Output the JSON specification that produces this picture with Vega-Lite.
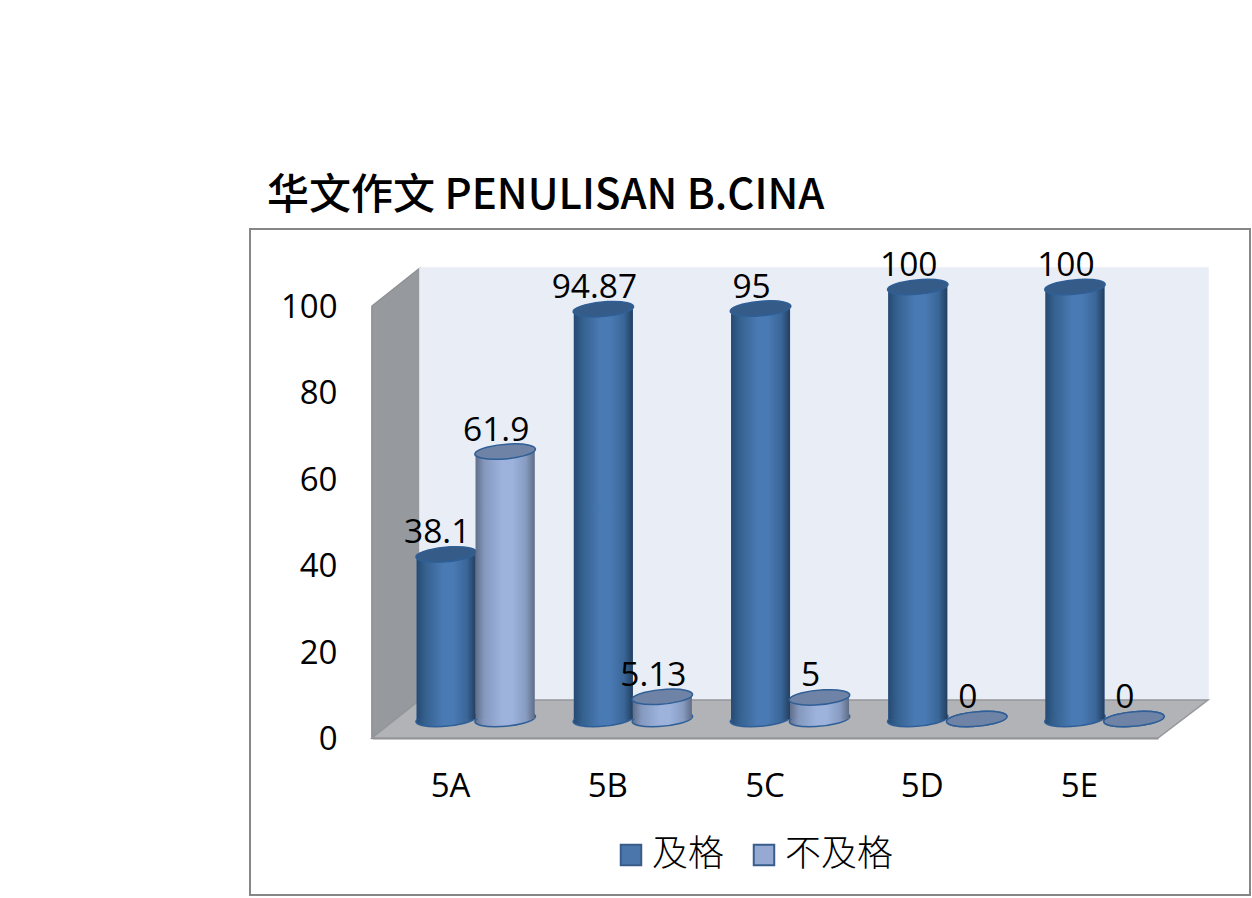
{
"$schema":"https://vega.github.io/schema/vega-lite/v6.json",
"width":1000,"height":666,
"autosize":{"type":"none"},
"padding":{"left":250,"top":229,"right":2,"bottom":3},
"background":"white",
"view":{"stroke":"#868686","strokeWidth":2,"fill":"white"},
"title":{"text":"华文作文 PENULISAN B.CINA","anchor":"start","frame":"group","dx":17,"offset":11,"font":"Noto Sans CJK SC","fontSize":42,"fontWeight":500,"color":"#000000"},
"datasets":{
"scores":[
{"class":"5A","series":"及格","value":38.1},{"class":"5A","series":"不及格","value":61.9},
{"class":"5B","series":"及格","value":94.87},{"class":"5B","series":"不及格","value":5.13},
{"class":"5C","series":"及格","value":95},{"class":"5C","series":"不及格","value":5},
{"class":"5D","series":"及格","value":100},{"class":"5D","series":"不及格","value":0},
{"class":"5E","series":"及格","value":100},{"class":"5E","series":"不及格","value":0}],
"walls":[
{"surface":"left","u":0,"low":0,"high":100},{"surface":"left","u":0.305,"low":8.8,"high":108.8},
{"surface":"back","u":0.305,"low":8.8,"high":108.8},{"surface":"back","u":5.318,"low":8.8,"high":108.8},
{"surface":"floor","u":0,"low":0,"high":0},{"surface":"floor","u":0.305,"low":0,"high":8.8},{"surface":"floor","u":5,"low":0,"high":8.8},{"surface":"floor","u":5.318,"low":8.8,"high":8.8}]
},
"data":{"name":"scores"},
"resolve":{"scale":{"x":"independent","y":"independent","xOffset":"independent","color":"independent","stroke":"independent"}},
"layer":[
{"data":{"name":"walls"},"mark":{"type":"area","clip":false,"strokeWidth":1.5},
 "encoding":{
  "x":{"field":"u","type":"quantitative","axis":null,"scale":{"domain":[0,5],"range":[122,908],"nice":false,"zero":false}},
  "y":{"field":"low","type":"quantitative","axis":null,"scale":{"domain":[0,100],"range":[509,77],"nice":false}},
  "y2":{"field":"high"},
  "color":{"field":"surface","type":"nominal","legend":null,"scale":{"domain":["left","back","floor"],"range":["#96999e","#e9edf6","#b1b3b7"]}},
  "stroke":{"field":"surface","type":"nominal","legend":null,"scale":{"domain":["left","back","floor"],"range":["#8e9094","#e9edf6","#959799"]}}
 }},
{"mark":{"type":"point","opacity":0},
 "encoding":{
  "x":{"field":"class","type":"nominal","title":null,"sort":["5A","5B","5C","5D","5E"],"scale":{"type":"band","range":[122,908],"paddingInner":0,"paddingOuter":0},
   "axis":{"offset":-157,"labelAngle":0,"tickSize":0,"labelPadding":32,"labelFont":"Open Sans","labelFontSize":33,"labelColor":"#000000","domainColor":"#8e8e8e","domainWidth":2,"grid":false}},
  "y":{"field":"value","type":"quantitative","title":null,"scale":{"domain":[0,100],"range":[509,77],"nice":false},
   "axis":{"offset":-122,"values":[0,20,40,60,80,100],"tickSize":0,"labelPadding":35,"labelOffset":1.5,"labelFont":"Open Sans","labelFontSize":33,"labelColor":"#000000","domainColor":"#8e8e8e","domainWidth":2,"grid":false}}
 }},
{"mark":{"type":"bar"},
 "encoding":{
  "x":{"field":"class","type":"nominal","axis":null,"sort":["5A","5B","5C","5D","5E"],"scale":{"type":"band","range":[147,933],"paddingInner":0.25,"paddingOuter":0.125}},
  "xOffset":{"field":"series","type":"nominal","sort":["及格","不及格"],"scale":{"type":"band","domain":["及格","不及格"],"range":[0,118]}},
  "y":{"field":"value","type":"quantitative","axis":null,"stack":null,"scale":{"domain":[0,100],"range":[490,58],"nice":false}},
  "color":{"field":"series","type":"nominal","sort":["及格","不及格"],"scale":{"domain":["及格","不及格"],"range":["#4a76ab","#95a9d2"]},
   "legend":{"orient":"none","legendX":363,"legendY":608,"direction":"horizontal","title":null,"symbolType":"square","symbolSize":420,"symbolStrokeColor":"#385d8a","symbolStrokeWidth":2,"labelFont":"Noto Sans CJK SC","labelFontSize":36,"labelFontWeight":300,"labelColor":"#000000","labelOffset":3,"columnPadding":21,"symbolOpacity":1,"labelLimit":200}}
 }},
{"transform":[{"filter":"datum.series==='及格'"}],"mark":{"type":"point","filled":true,"opacity":1,"size":3600,"shape":"M -1 0.05 A 1 0.24 -5 1 1 1 -0.05 A 1 0.24 -5 1 1 -1 0.05 Z","stroke":"#2f5f96","strokeWidth":1.5,
  "fill":{"x1":0,"x2":1,"y1":0,"y2":0,"gradient":"linear","stops":[{"offset":0,"color":"#264a72"},{"offset":0.15,"color":"#35618f"},{"offset":0.45,"color":"#4a7ab4"},{"offset":0.62,"color":"#4a7ab4"},{"offset":0.85,"color":"#3a6698"},{"offset":1,"color":"#223f60"}]}},
 "encoding":{
  "x":{"field":"class","type":"nominal","axis":null,"sort":["5A","5B","5C","5D","5E"],"scale":{"type":"band","range":[147,933],"paddingInner":0.25,"paddingOuter":0.125}},
  "xOffset":{"field":"series","type":"nominal","scale":{"type":"band","domain":["及格","不及格"],"range":[0,118]}},
  "y":{"datum":0,"type":"quantitative","axis":null,"scale":{"domain":[0,100],"range":[490,58],"nice":false}}
 }},
{"transform":[{"filter":"datum.series==='及格'"}],"mark":{"type":"bar",
  "fill":{"x1":0,"x2":1,"y1":0,"y2":0,"gradient":"linear","stops":[{"offset":0,"color":"#264a72"},{"offset":0.15,"color":"#35618f"},{"offset":0.45,"color":"#4a7ab4"},{"offset":0.62,"color":"#4a7ab4"},{"offset":0.85,"color":"#3a6698"},{"offset":1,"color":"#223f60"}]}},
 "encoding":{
  "x":{"field":"class","type":"nominal","axis":null,"sort":["5A","5B","5C","5D","5E"],"scale":{"type":"band","range":[147,933],"paddingInner":0.25,"paddingOuter":0.125}},
  "xOffset":{"field":"series","type":"nominal","scale":{"type":"band","domain":["及格","不及格"],"range":[0,118]}},
  "y":{"field":"value","type":"quantitative","axis":null,"stack":null,"scale":{"domain":[0,100],"range":[490,58],"nice":false}}
 }},
{"transform":[{"filter":"datum.series==='及格'"}],"mark":{"type":"point","filled":true,"opacity":1,"size":3600,"shape":"M -1 0.05 A 1 0.24 -5 1 1 1 -0.05 A 1 0.24 -5 1 1 -1 0.05 Z","stroke":"#2f5f96","strokeWidth":1.5,"fill":"#355c88"},
 "encoding":{
  "x":{"field":"class","type":"nominal","axis":null,"sort":["5A","5B","5C","5D","5E"],"scale":{"type":"band","range":[147,933],"paddingInner":0.25,"paddingOuter":0.125}},
  "xOffset":{"field":"series","type":"nominal","scale":{"type":"band","domain":["及格","不及格"],"range":[0,118]}},
  "y":{"field":"value","type":"quantitative","axis":null,"scale":{"domain":[0,100],"range":[490,58],"nice":false}}
 }},
{"transform":[{"filter":"datum.series==='不及格'"}],"mark":{"type":"point","filled":true,"opacity":1,"size":3600,"shape":"M -1 0.05 A 1 0.24 -5 1 1 1 -0.05 A 1 0.24 -5 1 1 -1 0.05 Z","stroke":"#2f5f96","strokeWidth":1.5,
  "fill":{"x1":0,"x2":1,"y1":0,"y2":0,"gradient":"linear","stops":[{"offset":0,"color":"#606e89"},{"offset":0.15,"color":"#8599bf"},{"offset":0.45,"color":"#9db3dc"},{"offset":0.62,"color":"#9db3dc"},{"offset":0.85,"color":"#889cc2"},{"offset":1,"color":"#5f6c85"}]}},
 "encoding":{
  "x":{"field":"class","type":"nominal","axis":null,"sort":["5A","5B","5C","5D","5E"],"scale":{"type":"band","range":[147,933],"paddingInner":0.25,"paddingOuter":0.125}},
  "xOffset":{"field":"series","type":"nominal","scale":{"type":"band","domain":["及格","不及格"],"range":[0,118]}},
  "y":{"datum":0,"type":"quantitative","axis":null,"scale":{"domain":[0,100],"range":[490,58],"nice":false}}
 }},
{"transform":[{"filter":"datum.series==='不及格'"}],"mark":{"type":"bar",
  "fill":{"x1":0,"x2":1,"y1":0,"y2":0,"gradient":"linear","stops":[{"offset":0,"color":"#606e89"},{"offset":0.15,"color":"#8599bf"},{"offset":0.45,"color":"#9db3dc"},{"offset":0.62,"color":"#9db3dc"},{"offset":0.85,"color":"#889cc2"},{"offset":1,"color":"#5f6c85"}]}},
 "encoding":{
  "x":{"field":"class","type":"nominal","axis":null,"sort":["5A","5B","5C","5D","5E"],"scale":{"type":"band","range":[147,933],"paddingInner":0.25,"paddingOuter":0.125}},
  "xOffset":{"field":"series","type":"nominal","scale":{"type":"band","domain":["及格","不及格"],"range":[0,118]}},
  "y":{"field":"value","type":"quantitative","axis":null,"stack":null,"scale":{"domain":[0,100],"range":[490,58],"nice":false}}
 }},
{"transform":[{"filter":"datum.series==='不及格'"}],"mark":{"type":"point","filled":true,"opacity":1,"size":3600,"shape":"M -1 0.05 A 1 0.24 -5 1 1 1 -0.05 A 1 0.24 -5 1 1 -1 0.05 Z","stroke":"#2f5f96","strokeWidth":1.5,"fill":"#6e83a5"},
 "encoding":{
  "x":{"field":"class","type":"nominal","axis":null,"sort":["5A","5B","5C","5D","5E"],"scale":{"type":"band","range":[147,933],"paddingInner":0.25,"paddingOuter":0.125}},
  "xOffset":{"field":"series","type":"nominal","scale":{"type":"band","domain":["及格","不及格"],"range":[0,118]}},
  "y":{"field":"value","type":"quantitative","axis":null,"scale":{"domain":[0,100],"range":[490,58],"nice":false}}
 }},
{"mark":{"type":"text","dx":-9,"dy":-21,"font":"Open Sans","fontSize":33.5,"color":"#000000","baseline":"middle","align":"center"},
 "encoding":{
  "x":{"field":"class","type":"nominal","axis":null,"sort":["5A","5B","5C","5D","5E"],"scale":{"type":"band","range":[147,933],"paddingInner":0.25,"paddingOuter":0.125}},
  "xOffset":{"field":"series","type":"nominal","scale":{"type":"band","domain":["及格","不及格"],"range":[0,118]}},
  "y":{"field":"value","type":"quantitative","axis":null,"stack":null,"scale":{"domain":[0,100],"range":[490,58],"nice":false}},
  "text":{"field":"value","type":"quantitative"}
 }}
]
}
